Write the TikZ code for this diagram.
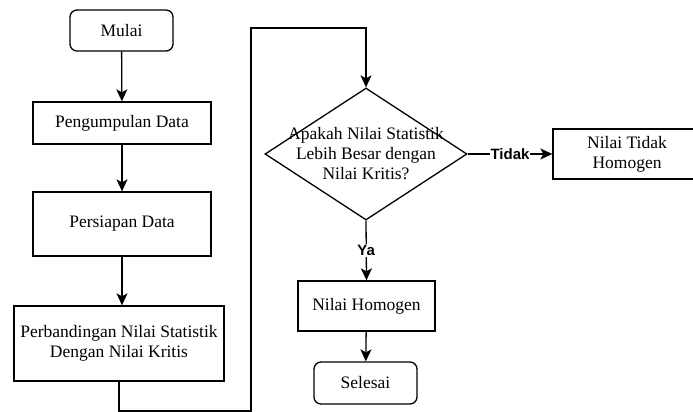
\documentclass[tikz,border=0pt]{standalone}
\usepackage{fontspec}
\setmainfont{Liberation Serif}
\newfontfamily\serf{Liberation Serif}
\newfontfamily\labfont{Liberation Sans}
\usetikzlibrary{arrows.meta,shapes.geometric}
\begin{document}
\begin{tikzpicture}[x=1pt,y=-1pt,
  every node/.style={font=\serf\fontsize{17.5}{20}\selectfont, align=center, inner sep=0pt},
  proc/.style={draw, line width=1.3pt, rectangle},
  term/.style={draw, line width=1.3pt, rectangle, rounded corners=7pt},
  dec/.style={draw, line width=1.3pt, diamond, aspect=1.53},
  conn/.style={line width=1.3pt, -{Stealth[length=12pt,width=11pt,inset=3pt]}},
  lab/.style={font=\labfont\bfseries\fontsize{15}{17}\selectfont, fill=white, inner sep=1pt}]
\useasboundingbox (0,0) rectangle (693,412);
\node[term, minimum width=103pt, minimum height=41pt] (mulai) at (121.5,30.5) {Mulai};
\node[proc, minimum width=178pt, minimum height=42pt] (kumpul) at (122,123) {Pengumpulan Data};
\node[proc, minimum width=178pt, minimum height=64pt] (siap) at (122,224) {Persiapan Data};
\node[proc, minimum width=210pt, minimum height=75pt] (banding) at (119,343.5) {Perbandingan Nilai Statistik\\Dengan Nilai Kritis};
\node[dec, minimum width=202pt, minimum height=132pt] (tanya) at (366,154) {};
\node at (366,154) {Apakah Nilai Statistik\\Lebih Besar dengan\\Nilai Kritis?};
\node[proc, minimum width=148pt, minimum height=50pt] (tidak) at (627,154) {Nilai Tidak\\Homogen};
\node[proc, minimum width=137pt, minimum height=50pt] (homogen) at (366.5,306) {Nilai Homogen};
\node[term, minimum width=103pt, minimum height=42pt] (selesai) at (365.5,383) {Selesai};
\coordinate (b1) at (119,411);
\coordinate (b2) at (251,411);
\coordinate (t1) at (251,28);
\coordinate (t2) at (366,28);
\draw[conn] (mulai) -- (kumpul);
\draw[conn] (kumpul) -- (siap);
\draw[conn] (siap.south) -- (siap.south |- banding.north);
\draw[conn] (banding.south) -- (b1) -- (b2) -- (t1) -- (t2) -- (tanya.north);
\draw[conn] (tanya.east) -- node[lab] (ltidak) {Tidak} (tidak.west);
\draw[conn] (tanya.south) -- node[lab, pos=0.5] (lya) {Ya} (homogen.north);
\draw[conn] (homogen) -- (selesai);
\end{tikzpicture}
\end{document}
